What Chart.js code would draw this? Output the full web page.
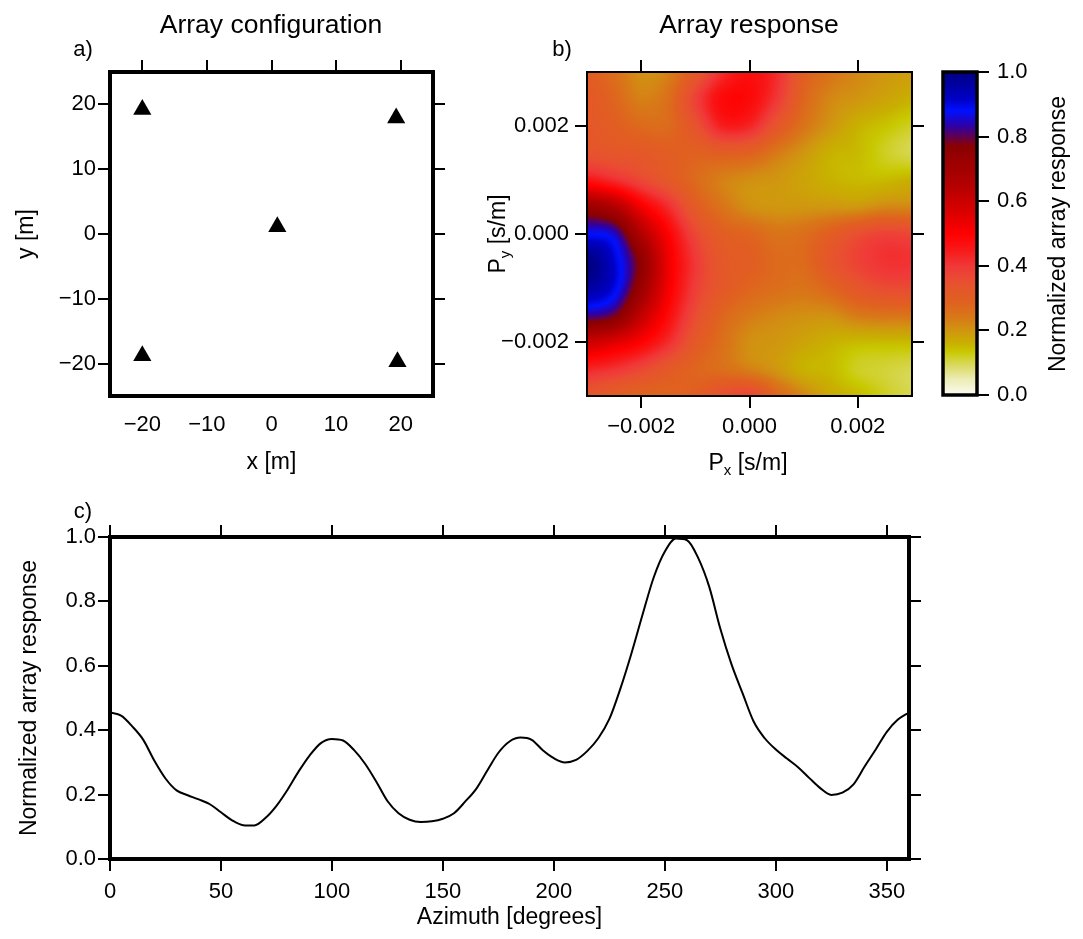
<!DOCTYPE html>
<html lang="en">
<head>
<meta charset="UTF-8">
<title>Array response</title>
<script src="https://cdn.jsdelivr.net/npm/chart.js"></script>
<style>
  body { margin: 0; background: #fff; }
  #figure { position: relative; width: 1083px; height: 939px; }
  #figure canvas { position: absolute; }
</style>
</head>
<body>
<div id="figure">
  <canvas id="config" width="540" height="480" style="left:0;top:0"></canvas>
  <canvas id="response" width="450" height="480" style="left:480px;top:0"></canvas>
  <canvas id="colorbar" width="153" height="480" style="left:930px;top:0"></canvas>
  <canvas id="azimuth" width="1083" height="459" style="left:0;top:480px"></canvas>
</div>
<script>
// station coordinates [m]
const stationX = [-20, 19.3, 0.9, -20, 19.5];
const stationY = [19.2, 17.9, 1.1, -18.8, -19.7];
const configTicks = [-20, -10, 0, 10, 20];

// slowness grid [s/m], rows run from +py (top) to -py (bottom)
const slownessX = [-0.003, -0.0025, -0.002, -0.0015, -0.001, -0.0005, 0, 0.0005, 0.001, 0.0015, 0.002, 0.0025, 0.003];
const slownessY = [0.003, 0.0025, 0.002, 0.0015, 0.001, 0.0005, 0, -0.0005, -0.001, -0.0015, -0.002, -0.0025, -0.003];
const slownessTicks = [-0.002, 0, 0.002];
const beamPower = [
  [0.30, 0.26, 0.21, 0.23, 0.32, 0.42, 0.47, 0.42, 0.30, 0.25, 0.22, 0.20, 0.19],
  [0.32, 0.28, 0.23, 0.26, 0.38, 0.48, 0.48, 0.40, 0.28, 0.22, 0.20, 0.18, 0.16],
  [0.32, 0.30, 0.27, 0.27, 0.34, 0.44, 0.43, 0.33, 0.25, 0.20, 0.16, 0.14, 0.12],
  [0.34, 0.33, 0.32, 0.30, 0.29, 0.30, 0.29, 0.24, 0.20, 0.16, 0.15, 0.12, 0.10],
  [0.46, 0.42, 0.37, 0.32, 0.27, 0.23, 0.21, 0.20, 0.18, 0.16, 0.15, 0.15, 0.16],
  [0.72, 0.66, 0.52, 0.42, 0.31, 0.25, 0.21, 0.20, 0.20, 0.20, 0.20, 0.22, 0.22],
  [0.88, 0.85, 0.66, 0.50, 0.37, 0.30, 0.28, 0.25, 0.26, 0.30, 0.35, 0.38, 0.37],
  [1.00, 0.91, 0.75, 0.53, 0.40, 0.32, 0.30, 0.27, 0.27, 0.33, 0.38, 0.41, 0.41],
  [0.96, 0.90, 0.72, 0.52, 0.39, 0.32, 0.28, 0.26, 0.25, 0.28, 0.33, 0.36, 0.36],
  [0.83, 0.79, 0.62, 0.48, 0.36, 0.28, 0.24, 0.22, 0.21, 0.21, 0.24, 0.25, 0.25],
  [0.60, 0.56, 0.50, 0.42, 0.32, 0.26, 0.21, 0.20, 0.18, 0.16, 0.15, 0.15, 0.15],
  [0.43, 0.41, 0.37, 0.32, 0.28, 0.26, 0.23, 0.20, 0.16, 0.15, 0.12, 0.11, 0.10],
  [0.33, 0.30, 0.28, 0.28, 0.30, 0.35, 0.37, 0.28, 0.22, 0.17, 0.15, 0.12, 0.10]
];
const powerTicks = [0, 0.2, 0.4, 0.6, 0.8, 1.0];

// response along azimuth [degrees]
const azimuths = [0, 5, 10, 15, 20, 25, 30, 35, 40, 45, 50, 55, 60, 65, 70, 75, 80, 85, 90, 95,
  100, 105, 110, 115, 120, 125, 130, 135, 140, 145, 150, 155, 160, 165, 170, 175, 180, 185, 190, 195,
  200, 205, 210, 215, 220, 225, 230, 235, 240, 245, 250, 255, 260, 265, 270, 275, 280, 285, 290, 295,
  300, 305, 310, 315, 320, 325, 330, 335, 340, 345, 350, 355, 360];
const azimuthResponse = [0.455, 0.445, 0.412, 0.37, 0.305, 0.25, 0.213, 0.198, 0.185, 0.17, 0.145, 0.12, 0.105, 0.104, 0.127, 0.165, 0.215, 0.272, 0.322, 0.36,
  0.373, 0.368, 0.338, 0.295, 0.24, 0.18, 0.142, 0.122, 0.115, 0.117, 0.125, 0.142, 0.178, 0.218, 0.275, 0.33, 0.365, 0.377, 0.37, 0.338,
  0.313, 0.30, 0.308, 0.335, 0.375, 0.435, 0.53, 0.64, 0.76, 0.875, 0.955, 0.995, 0.99, 0.935, 0.845, 0.715, 0.605, 0.515, 0.427, 0.375,
  0.34, 0.312, 0.285, 0.252, 0.22, 0.199, 0.206, 0.232, 0.287, 0.34, 0.395, 0.433, 0.455];
const azimuthTicks = [0, 50, 100, 150, 200, 250, 300, 350];

// colour table: white -> yellow -> red -> dark red -> blue -> navy
const cpt = [
  [0.00, [252, 252, 240]], [0.05, [235, 235, 180]], [0.09, [218, 218, 100]],
  [0.135, [200, 200, 0]], [0.16, [200, 176, 0]], [0.20, [208, 150, 16]],
  [0.24, [216, 120, 24]], [0.29, [224, 96, 32]], [0.35, [232, 80, 48]],
  [0.40, [240, 56, 56]], [0.45, [248, 24, 24]], [0.50, [255, 0, 0]],
  [0.57, [216, 0, 0]], [0.66, [176, 0, 0]], [0.77, [139, 0, 0]],
  [0.80, [96, 0, 80]], [0.83, [48, 0, 160]], [0.88, [0, 16, 255]],
  [0.915, [0, 0, 200]], [1.00, [0, 0, 128]]
];

const FONT = "'Liberation Sans', Arial, sans-serif";
Chart.defaults.font.family = FONT;
Chart.defaults.font.size = 22;
Chart.defaults.color = '#000';

const minus = s => s.replace('-', '\u2212');

function colorFor(v) {
  v = Math.max(0, Math.min(1, v));
  for (let k = 1; k < cpt.length; k++) {
    if (v <= cpt[k][0]) {
      const [v0, c0] = cpt[k - 1], [v1, c1] = cpt[k];
      const t = (v - v0) / (v1 - v0);
      return c0.map((c, n) => Math.round(c + (c1[n] - c) * t));
    }
  }
  return cpt[cpt.length - 1][1];
}

// smooth (Catmull-Rom) shading between grid nodes
function cubic(p0, p1, p2, p3, t) {
  return p1 + 0.5 * t * (p2 - p0 + t * (2 * p0 - 5 * p1 + 4 * p2 - p3 + t * (3 * (p1 - p2) + p3 - p0)));
}
function powerAt(px, py) {
  const n = slownessX.length - 1;
  const fi = (px - slownessX[0]) / (slownessX[1] - slownessX[0]);
  const fj = (slownessY[0] - py) / (slownessY[0] - slownessY[1]);
  const i = Math.min(Math.floor(fi), n - 1), j = Math.min(Math.floor(fj), n - 1);
  const c = k => Math.max(0, Math.min(n, k));
  const at = (r, q) => beamPower[c(r)][c(q)];
  const rows = [];
  for (let k = -1; k <= 2; k++) {
    rows.push(cubic(at(j + k, i - 1), at(j + k, i), at(j + k, i + 1), at(j + k, i + 2), fi - i));
  }
  return cubic(rows[0], rows[1], rows[2], rows[3], fj - j);
}

const setTicks = list => scale => { scale.ticks = list.map(value => ({ value })); };
const fixSize = size => scale => { if (scale.isHorizontal()) scale.height = size; else scale.width = size; };

// an axis that only carries tick marks (top / right sides of the frames)
function markAxis(position, min, max, list, size, tickLength = 12) {
  return {
    type: 'linear', position, min, max,
    afterBuildTicks: setTicks(list), afterFit: fixSize(size),
    border: { display: false },
    grid: { drawOnChartArea: false, drawTicks: true, tickLength, lineWidth: 2, color: '#000' },
    ticks: { display: false }
  };
}
// an axis with tick marks and labels
function labelAxis(position, min, max, list, size, fmt, padding, drawTicks = true, extra = {}) {
  return Object.assign({
    type: 'linear', position, min, max,
    afterBuildTicks: setTicks(list), afterFit: fixSize(size),
    border: { display: false },
    grid: { drawOnChartArea: false, drawTicks, tickLength: 12, lineWidth: 2, color: '#000' },
    ticks: { padding, callback: fmt, maxRotation: 0, autoSkip: false, font: { size: 22 } }
  }, extra);
}

function framePlugin(width) {
  return {
    id: 'frame',
    afterDraw(chart) {
      const { ctx, chartArea: a } = chart;
      ctx.save();
      ctx.lineWidth = width;
      ctx.strokeStyle = '#000';
      ctx.strokeRect(a.left, a.top, a.right - a.left, a.bottom - a.top);
      ctx.restore();
    }
  };
}

// free text: each item is a list of [text, size, baseline shift] runs centred on x,y
function captionPlugin(items) {
  return {
    id: 'captions',
    afterDraw(chart) {
      const ctx = chart.ctx;
      items.forEach(({ x, y, rotate = 0, runs }) => {
        ctx.save();
        ctx.translate(x, y);
        ctx.rotate(rotate);
        ctx.fillStyle = '#000';
        ctx.textAlign = 'left';
        ctx.textBaseline = 'alphabetic';
        const main = runs[0][1];
        const widths = runs.map(([t, s]) => { ctx.font = s + 'px ' + FONT; return ctx.measureText(t).width; });
        let cx = -widths.reduce((a, b) => a + b, 0) / 2;
        runs.forEach(([t, s, shift = 0], k) => {
          ctx.font = s + 'px ' + FONT;
          ctx.fillText(t, cx, main * 0.36 + shift);
          cx += widths[k];
        });
        ctx.restore();
      });
    }
  };
}

const base = {
  responsive: false, animation: false, devicePixelRatio: 1,
  layout: { padding: 0 },
  plugins: { legend: { display: false }, tooltip: { enabled: false } }
};
const titleFont = { size: 23 };

// a) array configuration
new Chart(document.getElementById('config'), {
  type: 'scatter',
  data: {
    datasets: [{
      data: stationX.map((x, i) => ({ x, y: stationY[i] })),
      pointStyle: 'triangle', pointRadius: 10.5, pointHoverRadius: 10.5,
      backgroundColor: '#000', borderColor: '#000', borderWidth: 0
    }]
  },
  options: Object.assign({}, base, {
    scales: {
      x: labelAxis('bottom', -25, 25, configTicks, 84, v => minus(String(v)), 16, false, {
        title: { display: true, text: 'x [m]', font: titleFont, padding: { top: 0, bottom: 4 } }
      }),
      x2: markAxis('top', -25, 25, configTicks, 72),
      y: labelAxis('left', -25, 25, configTicks, 110, v => minus(String(v)), 2, true, {
        title: { display: true, text: 'y [m]', font: titleFont, padding: { top: 13, bottom: 0 } }
      }),
      y2: markAxis('right', -25, 25, configTicks, 107)
    }
  }),
  plugins: [framePlugin(4), captionPlugin([
    { x: 271, y: 23, runs: [['Array configuration', 26.5]] },
    { x: 83, y: 48, runs: [['a)', 22]] }
  ])]
});

// b) array response over the slowness plane
const heatmap = {
  id: 'heatmap',
  beforeDatasetsDraw(chart) {
    const { ctx, chartArea: a, scales: { x, y } } = chart;
    const left = Math.round(a.left), top = Math.round(a.top);
    const w = Math.round(a.right) - left, h = Math.round(a.bottom) - top;
    const img = ctx.createImageData(w, h);
    for (let r = 0; r < h; r++) {
      const py = y.getValueForPixel(top + r + 0.5);
      for (let c = 0; c < w; c++) {
        const px = x.getValueForPixel(left + c + 0.5);
        const rgb = colorFor(powerAt(px, py));
        const o = (r * w + c) * 4;
        img.data[o] = rgb[0]; img.data[o + 1] = rgb[1]; img.data[o + 2] = rgb[2]; img.data[o + 3] = 255;
      }
    }
    ctx.putImageData(img, left, top);
  }
};
const fmtSlow = v => minus(v.toFixed(3));
new Chart(document.getElementById('response'), {
  type: 'scatter',
  data: { datasets: [] },
  options: Object.assign({}, base, {
    scales: {
      x: labelAxis('bottom', -0.003, 0.003, slownessTicks, 84, fmtSlow, 6),
      x2: markAxis('top', -0.003, 0.003, slownessTicks, 72),
      y: labelAxis('left', -0.003, 0.003, slownessTicks, 107, fmtSlow, 6),
      y2: markAxis('right', -0.003, 0.003, slownessTicks, 18)
    }
  }),
  plugins: [heatmap, framePlugin(2), captionPlugin([
    { x: 269, y: 23, runs: [['Array response', 26.5]] },
    { x: 82, y: 48, runs: [['b)', 22]] },
    { x: 268, y: 462, runs: [['P', 23], ['x', 15, 5], [' [s/m]', 23]] },
    { x: 17, y: 234, rotate: -Math.PI / 2, runs: [['P', 23], ['y', 15, 5], [' [s/m]', 23]] }
  ])]
});

// colour scale
const colorScale = {
  id: 'colorScale',
  beforeDatasetsDraw(chart) {
    const { ctx, chartArea: a, scales: { y } } = chart;
    for (let py = Math.floor(a.top); py < a.bottom; py++) {
      const rgb = colorFor(y.getValueForPixel(py + 0.5));
      ctx.fillStyle = `rgb(${rgb[0]},${rgb[1]},${rgb[2]})`;
      ctx.fillRect(a.left, py, a.right - a.left, 1);
    }
  }
};
new Chart(document.getElementById('colorbar'), {
  type: 'scatter',
  data: { datasets: [] },
  options: Object.assign({}, base, {
    layout: { padding: { left: 13, top: 72, bottom: 85, right: 0 } },
    scales: {
      x: { type: 'linear', display: false, min: 0, max: 1 },
      y: labelAxis('right', 0, 1, powerTicks, 106, v => v.toFixed(1), 8)
    }
  }),
  plugins: [colorScale, framePlugin(3.5), captionPlugin([
    { x: 127, y: 234, rotate: -Math.PI / 2, runs: [['Normalized array response', 23]] }
  ])]
});

// c) response versus azimuth
new Chart(document.getElementById('azimuth'), {
  type: 'line',
  data: {
    datasets: [{
      data: azimuths.map((x, i) => ({ x, y: azimuthResponse[i] })),
      borderColor: '#000', borderWidth: 2, pointRadius: 0, fill: false,
      cubicInterpolationMode: 'monotone'
    }]
  },
  options: Object.assign({}, base, {
    scales: {
      x: labelAxis('bottom', 0, 360, azimuthTicks, 80, v => String(v), 8, true, {
        title: { display: true, text: 'Azimuth [degrees]', font: titleFont, padding: { top: 0, bottom: 8 } }
      }),
      x2: markAxis('top', 0, 360, azimuthTicks, 57),
      y: labelAxis('left', 0, 1, powerTicks, 110, v => v.toFixed(1), 2, true, {
        title: { display: true, text: 'Normalized array response', font: titleFont, padding: { top: 16, bottom: 0 } }
      }),
      y2: markAxis('right', 0, 1, powerTicks, 174)
    }
  }),
  plugins: [framePlugin(4), captionPlugin([
    { x: 83, y: 30, runs: [['c)', 22]] }
  ])]
});
</script>
</body>
</html>
